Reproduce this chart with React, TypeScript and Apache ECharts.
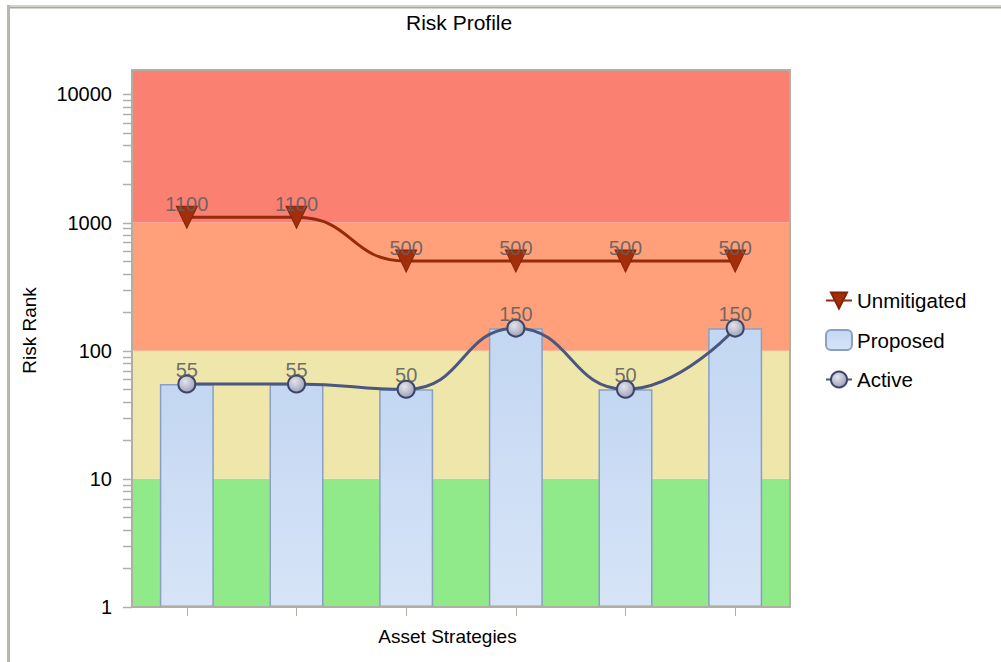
import React, { useEffect, useRef } from "react";
import * as echarts from "echarts";

const categories = ["Strategy 1", "Strategy 2", "Strategy 3", "Strategy 4", "Strategy 5", "Strategy 6"];
const unmitigated = [1100, 1100, 500, 500, 500, 500];
const proposed = [55, 55, 50, 150, 50, 150];
const active = [55, 55, 50, 150, 50, 150];
const yMin = 1;
const yMax = 15500;
const majorTicks = [1, 10, 100, 1000, 10000];
const minorTicks = [
  2, 3, 4, 5, 6, 7, 8, 9,
  20, 30, 40, 50, 60, 70, 80, 90,
  200, 300, 400, 500, 600, 700, 800, 900,
  2000, 3000, 4000, 5000, 6000, 7000, 8000, 9000,
];
const bands = [
  { from: 1, to: 10, color: "#90EA8A" },
  { from: 10, to: 100, color: "#EEE6AA" },
  { from: 100, to: 1000, color: "#FFA07A" },
  { from: 1000, to: yMax, color: "#FA8072" },
];

const FONT = "Liberation Sans, Arial, sans-serif";
const GRAY = "#b2aea2";

export default function App() {
  const ref = useRef<HTMLDivElement>(null);
  useEffect(() => {
    if (!ref.current) return;
    const chart = echarts.init(ref.current, undefined, { renderer: "svg" });
    const allTicks = [...majorTicks, ...minorTicks];
    const option: any = {
      animation: false,
      backgroundColor: "#ffffff",
      textStyle: { fontFamily: FONT },
      title: {
        text: "Risk Profile",
        left: 401,
        top: 7,
        textStyle: { fontFamily: FONT, fontSize: 21, fontWeight: "normal", color: "#000" },
      },
      graphic: [
        { type: "rect", shape: { x: 8, y: 5, width: 993, height: 2 }, style: { fill: "#d2d2cc" }, z: 100 },
        { type: "rect", shape: { x: 8, y: 7, width: 993, height: 1.5 }, style: { fill: "#a9a79e" }, z: 100 },
        { type: "rect", shape: { x: 7, y: 5, width: 3, height: 657 }, style: { fill: "#b8b6ae" }, z: 100 },
      ],
      legend: {
        orient: "vertical",
        left: 820,
        top: 285,
        itemWidth: 26,
        itemHeight: 20,
        itemGap: 18,
        symbolRotate: "inherit",
        textStyle: { fontFamily: FONT, fontSize: 20.5, color: "#000" },
        data: ["Unmitigated", "Proposed", "Active"],
      },
      grid: { left: 132, right: 211, top: 70, bottom: 55 },
      xAxis: [
        {
          type: "category",
          data: categories,
          z: 10,
          name: "Asset Strategies",
          nameLocation: "middle",
          nameGap: 20,
          nameTextStyle: { fontFamily: FONT, fontSize: 19, color: "#000", padding: [0, 27, 0, 0] },
          axisLine: { show: true, lineStyle: { color: GRAY, width: 2 } },
          axisTick: { show: true, alignWithLabel: true, length: 9, lineStyle: { color: GRAY, width: 1 } },
          axisLabel: { show: false },
          splitLine: { show: false },
        },
        {
          type: "category",
          data: categories,
          position: "top",
          z: 10,
          axisLine: { show: true, lineStyle: { color: GRAY, width: 2 } },
          axisTick: { show: false },
          axisLabel: { show: false },
        },
      ],
      yAxis: [
        {
          type: "log",
          logBase: 10,
          min: yMin,
          max: yMax,
          z: 10,
          name: "Risk Rank",
          nameLocation: "middle",
          nameGap: 93,
          nameTextStyle: { fontFamily: FONT, fontSize: 19, color: "#000", padding: [0, 0, 0, 16] },
          axisLine: { show: true, lineStyle: { color: GRAY, width: 2 } },
          axisTick: { show: false },
          splitLine: { show: false },
          axisLabel: {
            fontFamily: FONT,
            fontSize: 20,
            color: "#000",
            margin: 20,
            formatter: (v: number) =>
              majorTicks.some((t) => Math.abs(t - v) / t < 1e-6) ? String(Math.round(v)) : "",
          },
        },
        {
          type: "value",
          position: "right",
          min: 0,
          max: 1,
          z: 10,
          axisLine: { show: true, lineStyle: { color: GRAY, width: 2 } },
          axisTick: { show: false },
          axisLabel: { show: false },
          splitLine: { show: false },
        },
      ],
      series: [
        {
          name: "bands",
          type: "line",
          data: [],
          z: 0,
          silent: true,
          markArea: {
            silent: true,
            itemStyle: { opacity: 1 },
            data: bands.map((b) => [
              { yAxis: b.from, itemStyle: { color: b.color } },
              { yAxis: b.to },
            ]),
          },
        },
        {
          name: "ticks",
          type: "custom",
          silent: true,
          clip: false,
          z: 5,
          data: allTicks.map((v) => [0, v]),
          renderItem: (params: any, api: any) => {
            const p = api.coord([0, api.value(1)]);
            const cs = params.coordSys;
            return {
              type: "line",
              shape: { x1: cs.x - 9, y1: Math.round(p[1]) + 0.5, x2: cs.x, y2: Math.round(p[1]) + 0.5 },
              style: { stroke: GRAY, lineWidth: 1.5 },
            };
          },
        },
        {
          name: "Proposed",
          type: "bar",
          data: proposed,
          barWidth: 54,
          z: 2,
          itemStyle: {
            color: new echarts.graphic.LinearGradient(0, 0, 0, 1, [
              { offset: 0, color: "#c3d7f2" },
              { offset: 1, color: "#d7e4f7" },
            ]),
            borderColor: "#8a9fc4",
            borderWidth: 1.5,
          },
        },
        {
          name: "Unmitigated",
          type: "line",
          data: unmitigated,
          smooth: 0.5,
          z: 4,
          symbol: "triangle",
          symbolRotate: 180,
          symbolSize: [21, 22],
          lineStyle: { color: "#962a0a", width: 3 },
          itemStyle: { color: "#a52e0a", borderColor: "#862306", borderWidth: 1 },
          label: {
            show: true,
            position: "inside",
            offset: [0, -13],
            fontFamily: FONT,
            fontSize: 20,
            color: "rgba(95,95,95,0.9)",
          },
        },
        {
          name: "Active",
          type: "line",
          data: active,
          smooth: 0.5,
          z: 4,
          symbol: "circle",
          symbolSize: 17,
          lineStyle: { color: "#4a5780", width: 3 },
          itemStyle: {
            color: new echarts.graphic.RadialGradient(0.4, 0.35, 0.7, [
              { offset: 0, color: "#e2e4ec" },
              { offset: 1, color: "#9a9eb6" },
            ]),
            borderColor: "#3c4468",
            borderWidth: 2,
          },
          label: {
            show: true,
            position: "inside",
            offset: [0, -14],
            fontFamily: FONT,
            fontSize: 20,
            color: "rgba(95,95,95,0.9)",
          },
        },
      ],
    };
    chart.setOption(option);
    return () => chart.dispose();
  }, []);
  return (
    <div
      ref={ref}
      style={{ position: "absolute", left: 0, top: 0, width: 1001, height: 662 }}
    />
  );
}
